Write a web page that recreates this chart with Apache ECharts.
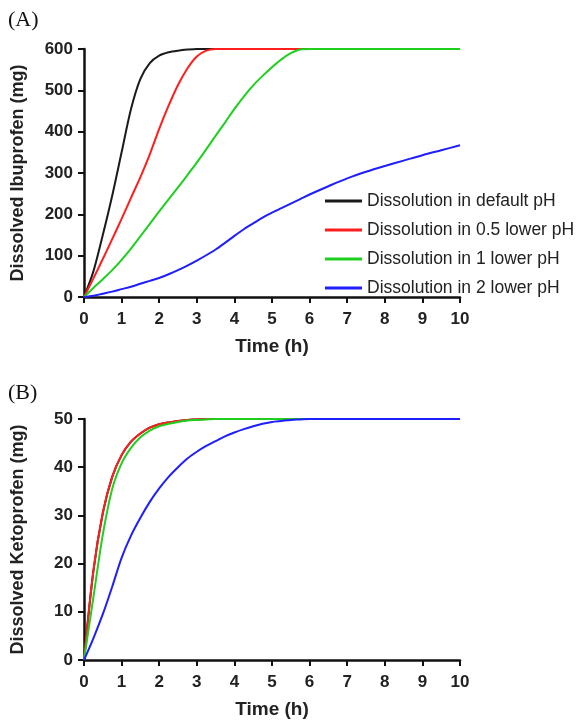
<!DOCTYPE html>
<html>
<head>
<meta charset="utf-8">
<script src="https://cdn.jsdelivr.net/npm/echarts@6/dist/echarts.min.js"></script>
<style>
html,body{margin:0;padding:0;background:#fff;}
#chart{width:585px;height:720px;}
</style>
</head>
<body>
<div id="chart"></div>
<script>
// 时间点 (h)
var times = [0,0.25,0.5,0.75,1,1.25,1.5,1.75,2,2.25,2.5,2.75,3,3.25,3.5,3.75,4,4.25,4.5,4.75,5,5.25,5.5,5.75,6,6.5,7,7.5,8,8.5,9,9.5,10];

var seriesNames = ['Dissolution in default pH','Dissolution in 0.5 lower pH','Dissolution in 1 lower pH','Dissolution in 2 lower pH'];
var seriesColors = ['#1a1a1a','#ff1e1e','#1ecf1e','#1e1eff'];

// (A) Ibuprofen (mg)
var ibuDefault = [0,62,150,245,350,455,528,566,584,592,596,598.5,600,600,600,600,600,600,600,600,600,600,600,600,600,600,600,600,600,600,600,600,600];
var ibuHalf    = [0,45,92,140,189,240,290,345,407,463,513,553,582,596,600,600,600,600,600,600,600,600,600,600,600,600,600,600,600,600,600,600,600];
var ibuOne     = [0,22,43,65,90,117,147,177,207,236,265,295,325,357,390,422,455,485,512,535,556,575,590,599,600,600,600,600,600,600,600,600,600];
var ibuTwo     = [0,3,8,13,19,25,32,39,46,55,65,76,88,101,115,131,148,164,178,192,204,215,226,237,248,268,287,303,317,330,343,355,367];

// (B) Ketoprofen (mg)
var ketoDefault = [0,18.5,30.5,38,42.5,45.3,47,48.2,48.9,49.3,49.6,49.8,49.9,50,50,50,50,50,50,50,50,50,50,50,50,50,50,50,50,50,50,50,50];
var ketoHalf    = [0,18.5,30.5,38,42.5,45.3,47,48.2,48.9,49.3,49.6,49.8,49.9,50,50,50,50,50,50,50,50,50,50,50,50,50,50,50,50,50,50,50,50];
var ketoOne     = [0,13,26,35.5,40.8,44,46.2,47.6,48.5,49,49.4,49.7,49.8,49.9,50,50,50,50,50,50,50,50,50,50,50,50,50,50,50,50,50,50,50];
var ketoTwo     = [0,4.5,9.5,15.2,21.2,25.8,29.5,32.8,35.6,38,40,41.8,43.2,44.4,45.4,46.4,47.2,47.9,48.5,49,49.4,49.6,49.8,49.9,50,50,50,50,50,50,50,50,50];

var xTicks = [0,10,1];
var yTicksA = [0,600,100];
var yTicksB = [0,50,10];

function pairs(xs, ys) {
    var out = [];
    for (var i = 0; i < xs.length; i++) out.push([xs[i], ys[i]]);
    return out;
}

function xAxisCfg(idx) {
    return {
        type: 'value', gridIndex: idx,
        min: xTicks[0], max: xTicks[1], interval: xTicks[2],
        name: 'Time (h)', nameLocation: 'middle', nameGap: 40,
        nameTextStyle: { fontSize: 19, fontWeight: 'bold', color: '#222', fontFamily: 'Liberation Sans, Arial' },
        axisLine: { show: true, lineStyle: { color: '#111', width: 2.5 } },
        axisTick: { show: true, length: 6, lineStyle: { color: '#111', width: 2 } },
        axisLabel: { fontSize: 17, fontWeight: 'bold', color: '#222', margin: 14, fontFamily: 'Liberation Sans, Arial' },
        splitLine: { show: false }
    };
}

function yAxisCfg(idx, ticks, name) {
    return {
        type: 'value', gridIndex: idx,
        min: ticks[0], max: ticks[1], interval: ticks[2],
        name: name, nameLocation: 'middle', nameGap: 57, nameRotate: 90,
        nameTextStyle: { fontSize: 18, fontWeight: 'bold', color: '#222', fontFamily: 'Liberation Sans, Arial' },
        axisLine: { show: true, lineStyle: { color: '#111', width: 2.5 } },
        axisTick: { show: true, length: 6, lineStyle: { color: '#111', width: 2 } },
        axisLabel: { fontSize: 17, fontWeight: 'bold', color: '#222', margin: 11, fontFamily: 'Liberation Sans, Arial' },
        splitLine: { show: false }
    };
}

function lineSeries(i, idx, ys) {
    return {
        name: seriesNames[i], type: 'line',
        xAxisIndex: idx, yAxisIndex: idx,
        data: pairs(times, ys),
        smooth: 0.3,
        showSymbol: false, symbol: 'none',
        lineStyle: { color: seriesColors[i], width: 2 },
        itemStyle: { color: seriesColors[i] },
        z: 2 + i
    };
}

var myChart = echarts.init(document.getElementById('chart'), null, { renderer: 'canvas' });

var option = {
    animation: false,
    backgroundColor: '#fff',
    graphic: [
        { type: 'text', left: 8, top: 9, style: { text: '(A)', fontSize: 22, fontFamily: 'Liberation Serif, Times New Roman, serif', fill: '#111' } },
        { type: 'text', left: 8, top: 382, style: { text: '(B)', fontSize: 22, fontFamily: 'Liberation Serif, Times New Roman, serif', fill: '#111' } }
    ],
    legend: {
        data: seriesNames,
        orient: 'vertical',
        left: 325, top: 192,
        padding: 0,
        icon: 'rect',
        itemWidth: 37, itemHeight: 3,
        itemGap: 11,
        textStyle: { fontSize: 17.5, color: '#222', lineHeight: 18, fontFamily: 'Liberation Sans, Arial' }
    },
    grid: [
        { left: 84, top: 49, width: 376, height: 248 },
        { left: 84, top: 419, width: 376, height: 247 }
    ],
    xAxis: [xAxisCfg(0), xAxisCfg(1)],
    yAxis: [
        yAxisCfg(0, yTicksA, 'Dissolved Ibuprofen (mg)'),
        yAxisCfg(1, yTicksB, 'Dissolved Ketoprofen (mg)')
    ],
    series: [
        lineSeries(0, 0, ibuDefault),
        lineSeries(1, 0, ibuHalf),
        lineSeries(2, 0, ibuOne),
        lineSeries(3, 0, ibuTwo),
        lineSeries(0, 1, ketoDefault),
        lineSeries(1, 1, ketoHalf),
        lineSeries(2, 1, ketoOne),
        lineSeries(3, 1, ketoTwo)
    ]
};

myChart.setOption(option);
</script>
</body>
</html>
